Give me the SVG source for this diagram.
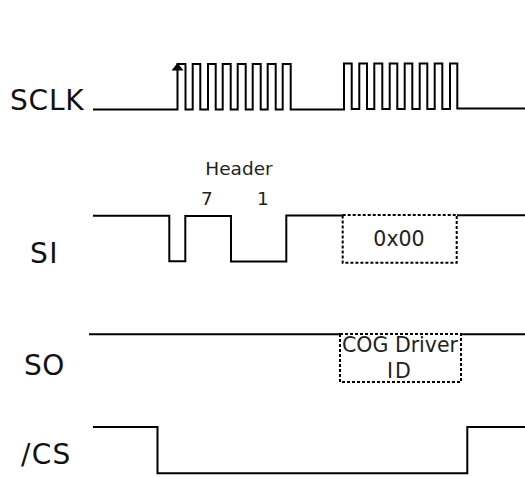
<svg xmlns="http://www.w3.org/2000/svg" width="525" height="477" viewBox="0 0 525 477">
<defs><style>
.w{fill:none;stroke:#000;stroke-width:2}
.d{fill:none;stroke:#000;stroke-width:2;stroke-dasharray:3 2}
.l{font-family:"DejaVu Sans",Verdana,sans-serif;font-size:28px;fill:#111}
.s{font-family:"DejaVu Sans",Verdana,sans-serif;font-size:18.500px;fill:#222;text-anchor:middle}
.t{font-family:"DejaVu Sans",Verdana,sans-serif;font-size:20.500px;fill:#222;text-anchor:middle}
</style></defs>
<rect width="525" height="477" fill="#fff"/>
<g id="connectors">
<path id="sclk-wave" class="w" d="M93 109.5H177.5V64H185.5V109.5H192.700V64H200.300V109.500H208V64H215.700V109.500H222.700V64H230.700V109.500H237.700V64H245.700V109.500H252.700V64H260.700V109.500H267.700V64H275.700V109.500H282.700V64H290.700V109.500H344V63.500H351.700V109H359.300V63.500H367V109H374.300V63.500H382.300V109H389.700V63.500H397.300V109H404.700V63.500H412.300V109H419.700V63.500H427.300V109H434.700V63.500H442.300V109H450V63.500H457.300V108.500H525"/>
<polygon id="sclk-arrow" points="177.500,63 183.500,70.500 171.500,70.500" fill="#000"/>
<path id="si-wave-a" class="w" d="M93 215.700H169.300V261.300H185.300V216H231V261.500H286.300V215.500H343"/>
<path id="si-wave-b" class="w" d="M457 215.300H525"/>
<path id="so-wave-a" class="w" d="M89 334.300H340"/>
<path id="so-wave-b" class="w" d="M461 334.300H525"/>
<path id="cs-wave" class="w" d="M93 427H157.500V473.300H467.300V427H525"/>
</g>
<g id="label-sclk"><text class="l" x="10" y="110" letter-spacing="0.800">SCLK</text></g>
<g id="label-si"><text class="l" x="30" y="262.500" letter-spacing="1.500">SI</text></g>
<g id="label-so"><text class="l" x="24" y="375" letter-spacing="0.500">SO</text></g>
<g id="label-cs"><text class="l" x="21" y="464" letter-spacing="1.300">/CS</text></g>
<g id="header"><text class="s" x="239" y="175">Header</text><text class="s" x="207" y="205">7</text><text class="s" x="263" y="205">1</text></g>
<g id="box-0x00"><rect class="d" x="342.700" y="215" width="114" height="47.700"/><text class="t" x="399" y="245.500">0x00</text></g>
<g id="box-cog"><rect class="d" x="340" y="334" width="121" height="48"/><text class="t" x="400" y="352">COG Driver</text><text class="t" x="400" y="378" letter-spacing="2">ID</text></g>
</svg>
